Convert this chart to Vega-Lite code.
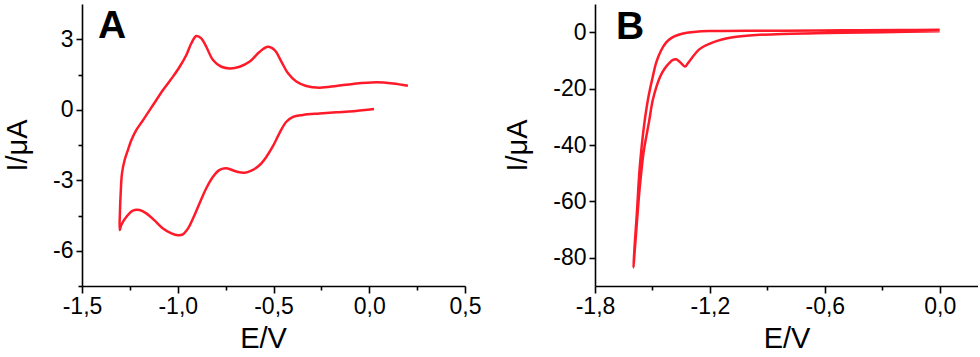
{
  "$schema": "https://vega.github.io/schema/vega-lite/v6.json",
  "padding": {"left": 3, "top": 4, "right": 0, "bottom": 0},
  "bounds": "flush",
  "spacing": 130,
  "config": {
    "view": {"stroke": null},
    "font": "Liberation Sans",
    "axis": {
      "grid": false,
      "domainColor": "#000",
      "domainWidth": 1.6,
      "tickColor": "#000",
      "tickWidth": 1.6,
      "labelColor": "#000",
      "titleColor": "#000",
      "labelFont": "Liberation Sans",
      "titleFont": "Liberation Sans",
      "labelFontSize": 23,
      "titleFontSize": 29,
      "titleFontWeight": "normal",
      "labelFlush": false,
      "labelOverlap": false
    }
  },
  "hconcat": [
    {
      "width": 383,
      "height": 282,
      "layer": [
        {
          "data": {"values": [
            {"o": 1, "E": 0.025, "I": 0.03},
            {"o": 2, "E": -0.08, "I": -0.06},
            {"o": 3, "E": -0.172, "I": -0.11},
            {"o": 4, "E": -0.26, "I": -0.16},
            {"o": 5, "E": -0.346, "I": -0.22},
            {"o": 6, "E": -0.398, "I": -0.3},
            {"o": 7, "E": -0.433, "I": -0.51},
            {"o": 8, "E": -0.468, "I": -0.98},
            {"o": 9, "E": -0.503, "I": -1.55},
            {"o": 10, "E": -0.537, "I": -2.0},
            {"o": 11, "E": -0.572, "I": -2.35},
            {"o": 12, "E": -0.616, "I": -2.59},
            {"o": 13, "E": -0.651, "I": -2.68},
            {"o": 14, "E": -0.694, "I": -2.63},
            {"o": 15, "E": -0.746, "I": -2.49},
            {"o": 16, "E": -0.781, "I": -2.56},
            {"o": 17, "E": -0.816, "I": -2.85},
            {"o": 18, "E": -0.851, "I": -3.34},
            {"o": 19, "E": -0.886, "I": -3.98},
            {"o": 20, "E": -0.92, "I": -4.62},
            {"o": 21, "E": -0.946, "I": -5.05},
            {"o": 22, "E": -0.973, "I": -5.3},
            {"o": 23, "E": -0.999, "I": -5.34},
            {"o": 24, "E": -1.033, "I": -5.26},
            {"o": 25, "E": -1.077, "I": -5.05},
            {"o": 26, "E": -1.12, "I": -4.72},
            {"o": 27, "E": -1.164, "I": -4.41},
            {"o": 28, "E": -1.199, "I": -4.27},
            {"o": 29, "E": -1.234, "I": -4.29},
            {"o": 30, "E": -1.268, "I": -4.55},
            {"o": 31, "E": -1.295, "I": -4.9},
            {"o": 32, "E": -1.303, "I": -5.12},
            {"o": 33, "E": -1.302, "I": -4.4},
            {"o": 34, "E": -1.298, "I": -3.55},
            {"o": 35, "E": -1.291, "I": -2.7},
            {"o": 36, "E": -1.277, "I": -2.13},
            {"o": 37, "E": -1.26, "I": -1.71},
            {"o": 38, "E": -1.242, "I": -1.29},
            {"o": 39, "E": -1.216, "I": -0.86},
            {"o": 40, "E": -1.181, "I": -0.44},
            {"o": 41, "E": -1.129, "I": 0.2},
            {"o": 42, "E": -1.077, "I": 0.84},
            {"o": 43, "E": -1.025, "I": 1.41},
            {"o": 44, "E": -0.99, "I": 1.83},
            {"o": 45, "E": -0.955, "I": 2.33},
            {"o": 46, "E": -0.929, "I": 2.83},
            {"o": 47, "E": -0.903, "I": 3.14},
            {"o": 48, "E": -0.877, "I": 3.04},
            {"o": 49, "E": -0.851, "I": 2.68},
            {"o": 50, "E": -0.816, "I": 2.12},
            {"o": 51, "E": -0.772, "I": 1.83},
            {"o": 52, "E": -0.729, "I": 1.76},
            {"o": 53, "E": -0.677, "I": 1.83},
            {"o": 54, "E": -0.624, "I": 2.05},
            {"o": 55, "E": -0.572, "I": 2.47},
            {"o": 56, "E": -0.529, "I": 2.68},
            {"o": 57, "E": -0.494, "I": 2.54},
            {"o": 58, "E": -0.459, "I": 2.05},
            {"o": 59, "E": -0.424, "I": 1.55},
            {"o": 60, "E": -0.381, "I": 1.2},
            {"o": 61, "E": -0.329, "I": 1.01},
            {"o": 62, "E": -0.259, "I": 0.94},
            {"o": 63, "E": -0.172, "I": 1.01},
            {"o": 64, "E": -0.085, "I": 1.1},
            {"o": 65, "E": 0.037, "I": 1.17},
            {"o": 66, "E": 0.124, "I": 1.12},
            {"o": 67, "E": 0.202, "I": 1.02}
          ]},
          "mark": {"type": "line", "color": "#ff1a2a", "strokeWidth": 2.5, "interpolate": "catmull-rom"},
          "encoding": {
            "x": {
              "field": "E", "type": "quantitative",
              "scale": {"domain": [-1.5, 0.5], "nice": false, "zero": false},
              "axis": {
                "title": "E/V",
                "values": [-1.5, -1.25, -1, -0.75, -0.5, -0.25, 0, 0.25, 0.5],
                "labelExpr": "abs(datum.value*2-round(datum.value*2))>0.01 ? '' : (datum.value < -0.001 ? '-' : '') + replace(format(abs(datum.value),'.1f'),'.',',')",
                "tickSize": {"condition": {"test": "abs(datum.value*2-round(datum.value*2))>0.01", "value": 4}, "value": 7},
                "labelPadding": 2,
                "titlePadding": 6,
                "titleX": 181
              }
            },
            "y": {
              "field": "I", "type": "quantitative",
              "scale": {"domain": [-7.5, 4.5], "nice": false, "zero": false},
              "axis": {
                "title": "I/μA",
                "values": [-7.5, -6, -4.5, -3, -1.5, 0, 1.5, 3],
                "labelExpr": "abs(datum.value/3-round(datum.value/3))>0.01 ? '' : (datum.value < -0.001 ? '-' : '') + format(abs(datum.value),'.0f')",
                "tickSize": {"condition": {"test": "abs(datum.value/3-round(datum.value/3))>0.01", "value": 4}, "value": 6},
                "labelPadding": 3,
                "titlePadding": 20
              }
            },
            "order": {"field": "o"}
          }
        },
        {
          "data": {"values": [{"E": -1.416, "I": 3.05, "t": "A"}]},
          "mark": {"type": "text", "align": "left", "baseline": "alphabetic", "fontSize": 39, "fontWeight": "bold", "color": "#000"},
          "encoding": {
            "x": {"field": "E", "type": "quantitative"},
            "y": {"field": "I", "type": "quantitative"},
            "text": {"field": "t"}
          }
        }
      ]
    },
    {
      "width": 383,
      "height": 282,
      "layer": [
        {
          "data": {"values": [
            {"o": 1, "E": 0.0, "I": 0.3},
            {"o": 2, "E": -0.3, "I": 0.0},
            {"o": 3, "E": -0.5, "I": -0.2},
            {"o": 4, "E": -0.65, "I": -0.4},
            {"o": 5, "E": -0.819, "I": -0.6},
            {"o": 6, "E": -0.958, "I": -1.0},
            {"o": 7, "E": -1.08, "I": -1.8},
            {"o": 8, "E": -1.184, "I": -3.6},
            {"o": 9, "E": -1.254, "I": -6.0},
            {"o": 10, "E": -1.298, "I": -9.5},
            {"o": 11, "E": -1.315, "I": -11.0},
            {"o": 12, "E": -1.330, "I": -12.2},
            {"o": 13, "E": -1.350, "I": -11.0},
            {"o": 14, "E": -1.376, "I": -9.6},
            {"o": 15, "E": -1.395, "I": -9.9},
            {"o": 16, "E": -1.41, "I": -10.8},
            {"o": 17, "E": -1.435, "I": -12.8},
            {"o": 18, "E": -1.46, "I": -15.8},
            {"o": 19, "E": -1.497, "I": -23.7},
            {"o": 20, "E": -1.518, "I": -31.8},
            {"o": 21, "E": -1.546, "I": -42.5},
            {"o": 22, "E": -1.567, "I": -55.6},
            {"o": 23, "E": -1.581, "I": -67.3},
            {"o": 24, "E": -1.593, "I": -77.9},
            {"o": 25, "E": -1.599, "I": -83.4},
            {"o": 26, "E": -1.593, "I": -75.7},
            {"o": 27, "E": -1.581, "I": -63.8},
            {"o": 28, "E": -1.567, "I": -48.5},
            {"o": 29, "E": -1.546, "I": -34.3},
            {"o": 30, "E": -1.523, "I": -23.7},
            {"o": 31, "E": -1.501, "I": -16.6},
            {"o": 32, "E": -1.48, "I": -10.7},
            {"o": 33, "E": -1.455, "I": -6.5},
            {"o": 34, "E": -1.428, "I": -3.6},
            {"o": 35, "E": -1.4, "I": -2.0},
            {"o": 36, "E": -1.367, "I": -1.0},
            {"o": 37, "E": -1.32, "I": -0.2},
            {"o": 38, "E": -1.271, "I": 0.2},
            {"o": 39, "E": -1.2, "I": 0.4},
            {"o": 40, "E": -1.132, "I": 0.45},
            {"o": 41, "E": -1.0, "I": 0.5},
            {"o": 42, "E": -0.819, "I": 0.55},
            {"o": 43, "E": -0.5, "I": 0.65},
            {"o": 44, "E": -0.2, "I": 0.75},
            {"o": 45, "E": 0.0, "I": 0.85}
          ]},
          "mark": {"type": "line", "color": "#ff1a2a", "strokeWidth": 2.5, "interpolate": "catmull-rom"},
          "encoding": {
            "x": {
              "field": "E", "type": "quantitative",
              "scale": {"domain": [-1.8, 0.2], "nice": false, "zero": false},
              "axis": {
                "title": "E/V",
                "values": [-1.8, -1.5, -1.2, -0.9, -0.6, -0.3, 0],
                "labelExpr": "abs(datum.value/0.6-round(datum.value/0.6))>0.01 ? '' : (datum.value < -0.001 ? '-' : '') + replace(format(abs(datum.value),'.1f'),'.',',')",
                "tickSize": {"condition": {"test": "abs(datum.value/0.6-round(datum.value/0.6))>0.01", "value": 4}, "value": 7},
                "labelPadding": 2,
                "titlePadding": 6
              }
            },
            "y": {
              "field": "I", "type": "quantitative",
              "scale": {"domain": [-90, 10], "nice": false, "zero": false},
              "axis": {
                "title": "I/μA",
                "values": [-80, -60, -40, -20, 0],
                "labelExpr": "(datum.value < -0.001 ? '-' : '') + format(abs(datum.value),'.0f')",
                "tickSize": 6,
                "labelPadding": 3,
                "titlePadding": 20
              }
            },
            "order": {"field": "o"}
          }
        },
        {
          "data": {"values": [{"E": -1.69, "I": -2.4, "t": "B"}]},
          "mark": {"type": "text", "align": "left", "baseline": "alphabetic", "fontSize": 39, "fontWeight": "bold", "color": "#000"},
          "encoding": {
            "x": {"field": "E", "type": "quantitative"},
            "y": {"field": "I", "type": "quantitative"},
            "text": {"field": "t"}
          }
        }
      ]
    }
  ]
}
